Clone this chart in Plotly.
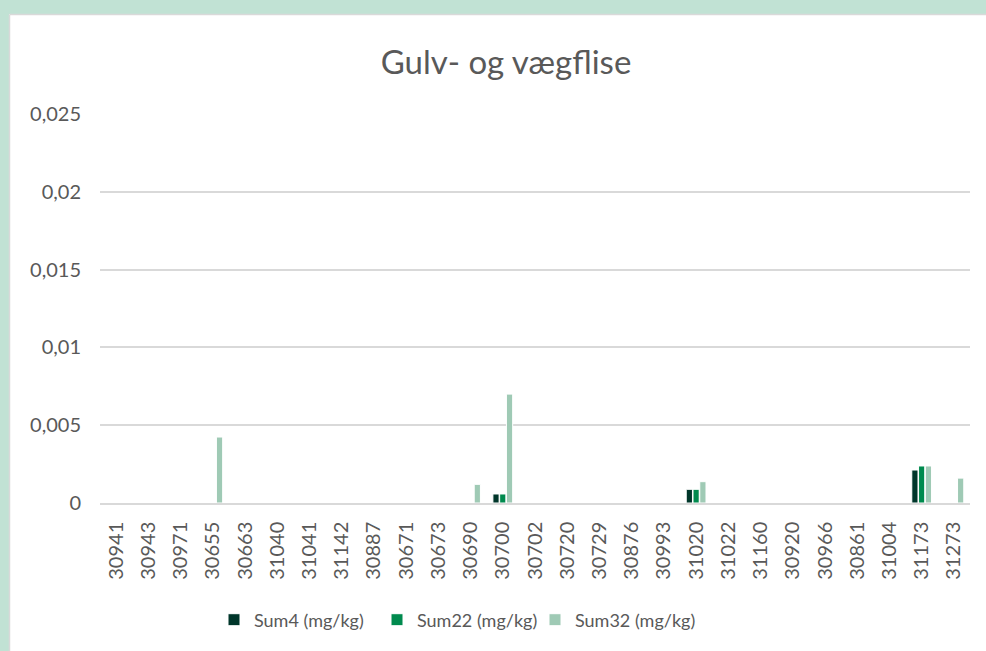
import plotly.graph_objects as go

categories = ["30941", "30943", "30971", "30655", "30663", "31040", "31041", "31142", "30887",
              "30671", "30673", "30690", "30700", "30702", "30720", "30729", "30876", "30993",
              "31020", "31022", "31160", "30920", "30966", "30861", "31004", "31173", "31273"]
sum4 = [0, 0, 0, 0, 0, 0, 0, 0, 0, 0, 0, 0, 0.00058, 0, 0, 0, 0, 0,
        0.00088, 0, 0, 0, 0, 0, 0, 0.00212, 0]
sum22 = [0, 0, 0, 0, 0, 0, 0, 0, 0, 0, 0, 0, 0.00058, 0, 0, 0, 0, 0,
         0.00088, 0, 0, 0, 0, 0, 0, 0.00238, 0]
sum32 = [0, 0, 0, 0.00424, 0, 0, 0, 0, 0, 0, 0, 0.0012, 0.0070, 0, 0, 0, 0, 0,
         0.00137, 0, 0, 0, 0, 0, 0, 0.00238, 0.0016]
series_names = ["Sum4 (mg/kg)", "Sum22 (mg/kg)", "Sum32 (mg/kg)"]
colors = ["#00362a", "#008a4e", "#9fcab5"]
legend_widths = [118, 113, 140]
y_ticks = [0, 0.005, 0.01, 0.015, 0.02, 0.025]
y_ticklabels = ["0", "0,005", "0,01", "0,015", "0,02", "0,025"]

W, H = 986, 651
L, R, T, B = 100, 16, 114, 148
pw, ph = W - L - R, H - T - B

def px_x(p):
    return (p - L) / pw

def px_y(p):
    return (H - B - p) / ph

FONT = "Lato, Open Sans, sans-serif"
fig = go.Figure()
for name, vals, c, lw in zip(series_names, [sum4, sum22, sum32], colors, legend_widths):
    fig.add_trace(go.Bar(x=categories, y=vals, name=name, marker_color=c, legendwidth=lw,
                         marker_line=dict(color="white", width=1)))

shapes = [
    dict(type="rect", xref="paper", yref="paper", x0=px_x(0), x1=px_x(W), y0=px_y(0), y1=px_y(14),
         fillcolor="#c1e2d4", line_width=0, layer="below"),
    dict(type="rect", xref="paper", yref="paper", x0=px_x(0), x1=px_x(9), y0=px_y(0), y1=px_y(H),
         fillcolor="#c1e2d4", line_width=0, layer="below"),
    dict(type="line", xref="paper", yref="paper", x0=px_x(9.5), x1=px_x(W), y0=px_y(14.5), y1=px_y(14.5),
         line=dict(color="#d9d9d9", width=1.5), layer="below"),
    dict(type="line", xref="paper", yref="paper", x0=px_x(9.5), x1=px_x(9.5), y0=px_y(14.5), y1=px_y(H),
         line=dict(color="#d9d9d9", width=1.5), layer="below"),
]

fig.update_layout(
    width=W, height=H,
    margin=dict(l=L, r=R, t=T, b=B, autoexpand=False),
    paper_bgcolor="white", plot_bgcolor="white",
    barmode="group", bargap=0.37, bargroupgap=0.08,
    title=dict(text="Gulv- og vægflise", x=506 / W, xanchor="center",
               y=1 - 62 / H, yanchor="middle",
               font=dict(family=FONT, size=33, color="#595959")),
    font=dict(family=FONT, size=20, color="#595959"),
    xaxis=dict(type="category", tickangle=-90, showgrid=False, showline=True,
               linecolor="#d9d9d9", linewidth=1.5, ticks="", ticklabelstandoff=9,
               tickfont=dict(size=20, color="#595959")),
    yaxis=dict(range=[0, 0.025], tickvals=y_ticks, ticktext=y_ticklabels, showgrid=True,
               gridcolor="#d9d9d9", gridwidth=1.5, zeroline=False, ticks="",
               ticklabelstandoff=18, tickfont=dict(size=20, color="#595959")),
    legend=dict(orientation="h", x=px_x(214), xanchor="left", y=px_y(620), yanchor="middle",
                font=dict(size=18, color="#595959"), itemwidth=30,
                traceorder="normal"),
    shapes=shapes,
)
fig.write_html("out.html", config={"displayModeBar": False},
               post_script="document.body.style.margin='0';")
